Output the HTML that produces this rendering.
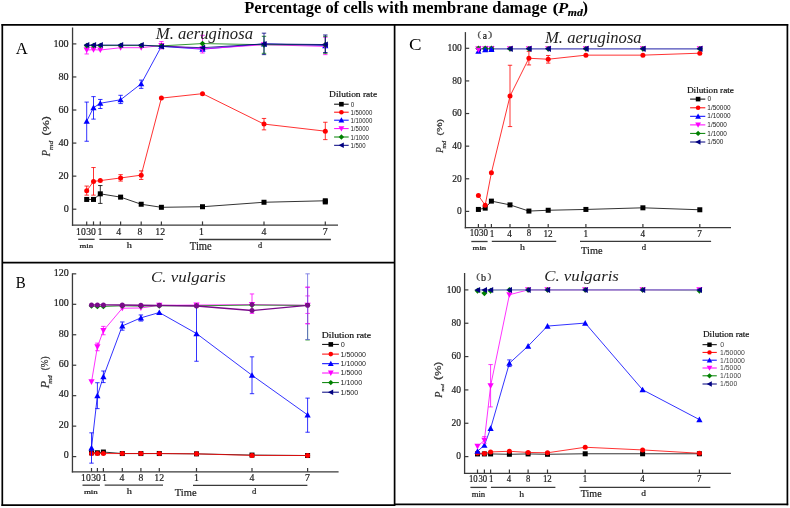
<!DOCTYPE html>
<html><head><meta charset="utf-8"><style>
html,body{margin:0;padding:0;background:#fff;}
svg{display:block;will-change:transform;}
</style></head><body>
<svg width="790" height="508" viewBox="0 0 790 508">
<rect width="790" height="508" fill="#fff"/>
<g fill="none" stroke="#000" stroke-width="1.7">
<line x1="1.5" y1="24.9" x2="788.2" y2="24.9"/>
<line x1="2.3" y1="24.1" x2="2.3" y2="506"/>
<line x1="787.4" y1="24.1" x2="787.4" y2="505.3"/>
<line x1="1.5" y1="505.2" x2="394.6" y2="505.2"/>
<line x1="394.6" y1="504.4" x2="788.2" y2="504.4"/>
<line x1="394.6" y1="24" x2="394.6" y2="505.9"/>
<line x1="2.3" y1="262.6" x2="394.6" y2="262.6"/>
</g>
<line x1="72.55" y1="27.5" x2="72.55" y2="225.85" stroke="#3a3a3a" stroke-width="1.3"/>
<line x1="71.9" y1="225.2" x2="338" y2="225.2" stroke="#3a3a3a" stroke-width="1.3"/>
<line x1="72.55" y1="209.2" x2="76.35" y2="209.2" stroke="#3a3a3a" stroke-width="1.2"/>
<text x="63.63" y="212" font-family="Liberation Serif" font-size="10.37" fill="#1a1a1a" stroke="#1a1a1a" stroke-width="0.2" textLength="5.08" lengthAdjust="spacingAndGlyphs">0</text>
<line x1="72.55" y1="176.14" x2="76.35" y2="176.14" stroke="#3a3a3a" stroke-width="1.2"/>
<text x="58.54" y="178.94" font-family="Liberation Serif" font-size="10.37" fill="#1a1a1a" stroke="#1a1a1a" stroke-width="0.2" textLength="10.16" lengthAdjust="spacingAndGlyphs">20</text>
<line x1="72.55" y1="143.08" x2="76.35" y2="143.08" stroke="#3a3a3a" stroke-width="1.2"/>
<text x="58.54" y="145.88" font-family="Liberation Serif" font-size="10.37" fill="#1a1a1a" stroke="#1a1a1a" stroke-width="0.2" textLength="10.16" lengthAdjust="spacingAndGlyphs">40</text>
<line x1="72.55" y1="110.02" x2="76.35" y2="110.02" stroke="#3a3a3a" stroke-width="1.2"/>
<text x="58.54" y="112.82" font-family="Liberation Serif" font-size="10.37" fill="#1a1a1a" stroke="#1a1a1a" stroke-width="0.2" textLength="10.16" lengthAdjust="spacingAndGlyphs">60</text>
<line x1="72.55" y1="76.96" x2="76.35" y2="76.96" stroke="#3a3a3a" stroke-width="1.2"/>
<text x="58.54" y="79.76" font-family="Liberation Serif" font-size="10.37" fill="#1a1a1a" stroke="#1a1a1a" stroke-width="0.2" textLength="10.16" lengthAdjust="spacingAndGlyphs">80</text>
<line x1="72.55" y1="43.9" x2="76.35" y2="43.9" stroke="#3a3a3a" stroke-width="1.2"/>
<text x="53.46" y="46.7" font-family="Liberation Serif" font-size="10.37" fill="#1a1a1a" stroke="#1a1a1a" stroke-width="0.2" textLength="15.24" lengthAdjust="spacingAndGlyphs">100</text>
<line x1="86.7" y1="225.2" x2="86.7" y2="221.4" stroke="#3a3a3a" stroke-width="1.2"/>
<line x1="93.5" y1="225.2" x2="93.5" y2="221.4" stroke="#3a3a3a" stroke-width="1.2"/>
<line x1="100.3" y1="225.2" x2="100.3" y2="221.4" stroke="#3a3a3a" stroke-width="1.2"/>
<line x1="120.6" y1="225.2" x2="120.6" y2="221.4" stroke="#3a3a3a" stroke-width="1.2"/>
<line x1="141.2" y1="225.2" x2="141.2" y2="221.4" stroke="#3a3a3a" stroke-width="1.2"/>
<line x1="161.4" y1="225.2" x2="161.4" y2="221.4" stroke="#3a3a3a" stroke-width="1.2"/>
<line x1="202.5" y1="225.2" x2="202.5" y2="221.4" stroke="#3a3a3a" stroke-width="1.2"/>
<line x1="264" y1="225.2" x2="264" y2="221.4" stroke="#3a3a3a" stroke-width="1.2"/>
<line x1="325.3" y1="225.2" x2="325.3" y2="221.4" stroke="#3a3a3a" stroke-width="1.2"/>
<text x="76.11" y="235.3" font-family="Liberation Serif" font-size="10.37" fill="#1a1a1a" stroke="#1a1a1a" stroke-width="0.2" textLength="9.64" lengthAdjust="spacingAndGlyphs">10</text>
<text x="86.25" y="235.3" font-family="Liberation Serif" font-size="10.37" fill="#1a1a1a" stroke="#1a1a1a" stroke-width="0.2" textLength="9.64" lengthAdjust="spacingAndGlyphs">30</text>
<text x="97.56" y="235.4" font-family="Liberation Serif" font-size="10.61" fill="#1a1a1a" stroke="#1a1a1a" stroke-width="0.2" textLength="4.93" lengthAdjust="spacingAndGlyphs">1</text>
<text x="116.31" y="235.4" font-family="Liberation Serif" font-size="10.61" fill="#1a1a1a" stroke="#1a1a1a" stroke-width="0.2" textLength="4.93" lengthAdjust="spacingAndGlyphs">4</text>
<text x="137.44" y="235.3" font-family="Liberation Serif" font-size="10.37" fill="#1a1a1a" stroke="#1a1a1a" stroke-width="0.2" textLength="4.82" lengthAdjust="spacingAndGlyphs">8</text>
<text x="155.37" y="235.4" font-family="Liberation Serif" font-size="10.61" fill="#1a1a1a" stroke="#1a1a1a" stroke-width="0.2" textLength="9.86" lengthAdjust="spacingAndGlyphs">12</text>
<text x="199.11" y="235.4" font-family="Liberation Serif" font-size="10.61" fill="#1a1a1a" stroke="#1a1a1a" stroke-width="0.2" textLength="4.93" lengthAdjust="spacingAndGlyphs">1</text>
<text x="261.51" y="235.4" font-family="Liberation Serif" font-size="10.61" fill="#1a1a1a" stroke="#1a1a1a" stroke-width="0.2" textLength="4.93" lengthAdjust="spacingAndGlyphs">4</text>
<text x="322.64" y="235.4" font-family="Liberation Serif" font-size="10.69" fill="#1a1a1a" stroke="#1a1a1a" stroke-width="0.2" textLength="4.97" lengthAdjust="spacingAndGlyphs">7</text>
<line x1="78.2" y1="239.3" x2="94.6" y2="239.3" stroke="#3a3a3a" stroke-width="1.3"/>
<line x1="99.4" y1="239.3" x2="163.1" y2="239.3" stroke="#3a3a3a" stroke-width="1.3"/>
<line x1="199.1" y1="239.5" x2="330.9" y2="239.5" stroke="#3a3a3a" stroke-width="1.3"/>
<text x="79.53" y="248" font-family="Liberation Serif" font-size="6.36" fill="#1a1a1a" stroke="#1a1a1a" stroke-width="0.2" textLength="13.61" lengthAdjust="spacingAndGlyphs">min</text>
<text x="126.8" y="248.1" font-family="Liberation Serif" font-size="8.78" fill="#1a1a1a" stroke="#1a1a1a" stroke-width="0.2" textLength="5.16" lengthAdjust="spacingAndGlyphs">h</text>
<text x="258.01" y="248.01" font-family="Liberation Serif" font-size="8.65" fill="#1a1a1a" stroke="#1a1a1a" stroke-width="0.2" textLength="4.18" lengthAdjust="spacingAndGlyphs">d</text>
<text x="189.79" y="250.38" font-family="Liberation Serif" font-size="11.64" fill="#1a1a1a" stroke="#1a1a1a" stroke-width="0.2" textLength="21.98" lengthAdjust="spacingAndGlyphs">Time</text>
<polyline points="86.7,199.45 93.5,199.45 100.3,193.83 120.6,197.13 141.2,204.24 161.4,207.3 202.5,206.72 264,202.26 325.3,200.77" fill="none" stroke="#000000" stroke-width="1.0" stroke-opacity="0.8" stroke-linejoin="round"/>
<line x1="100.3" y1="203.41" x2="100.3" y2="185.56" stroke="#000000" stroke-width="1.0" stroke-opacity="0.8"/>
<line x1="98.1" y1="203.41" x2="102.5" y2="203.41" stroke="#000000" stroke-width="1.0" stroke-opacity="0.8"/>
<line x1="98.1" y1="185.56" x2="102.5" y2="185.56" stroke="#000000" stroke-width="1.0" stroke-opacity="0.8"/>
<rect x="84.2" y="196.95" width="5" height="5" fill="#000000"/>
<rect x="91" y="196.95" width="5" height="5" fill="#000000"/>
<rect x="97.8" y="191.33" width="5" height="5" fill="#000000"/>
<rect x="118.1" y="194.63" width="5" height="5" fill="#000000"/>
<rect x="138.7" y="201.74" width="5" height="5" fill="#000000"/>
<rect x="158.9" y="204.8" width="5" height="5" fill="#000000"/>
<rect x="200" y="204.22" width="5" height="5" fill="#000000"/>
<rect x="261.5" y="199.76" width="5" height="5" fill="#000000"/>
<rect x="322.8" y="198.27" width="5" height="5" fill="#000000"/>
<rect x="322.8" y="199.43" width="5" height="5" fill="#000000"/>
<polyline points="86.7,190.85 93.5,181.43 100.3,180.6 120.6,177.96 141.2,175.15 161.4,98.12 202.5,93.66 264,124.07 325.3,131.18" fill="none" stroke="#FF0000" stroke-width="1.0" stroke-opacity="0.8" stroke-linejoin="round"/>
<line x1="86.7" y1="195.15" x2="86.7" y2="186.06" stroke="#FF0000" stroke-width="1.0" stroke-opacity="0.8"/>
<line x1="84.5" y1="195.15" x2="88.9" y2="195.15" stroke="#FF0000" stroke-width="1.0" stroke-opacity="0.8"/>
<line x1="84.5" y1="186.06" x2="88.9" y2="186.06" stroke="#FF0000" stroke-width="1.0" stroke-opacity="0.8"/>
<line x1="93.5" y1="195.15" x2="93.5" y2="167.54" stroke="#FF0000" stroke-width="1.0" stroke-opacity="0.8"/>
<line x1="91.3" y1="195.15" x2="95.7" y2="195.15" stroke="#FF0000" stroke-width="1.0" stroke-opacity="0.8"/>
<line x1="91.3" y1="167.54" x2="95.7" y2="167.54" stroke="#FF0000" stroke-width="1.0" stroke-opacity="0.8"/>
<line x1="120.6" y1="181.1" x2="120.6" y2="174.65" stroke="#FF0000" stroke-width="1.0" stroke-opacity="0.8"/>
<line x1="118.4" y1="181.1" x2="122.8" y2="181.1" stroke="#FF0000" stroke-width="1.0" stroke-opacity="0.8"/>
<line x1="118.4" y1="174.65" x2="122.8" y2="174.65" stroke="#FF0000" stroke-width="1.0" stroke-opacity="0.8"/>
<line x1="141.2" y1="179.45" x2="141.2" y2="170.85" stroke="#FF0000" stroke-width="1.0" stroke-opacity="0.8"/>
<line x1="139" y1="179.45" x2="143.4" y2="179.45" stroke="#FF0000" stroke-width="1.0" stroke-opacity="0.8"/>
<line x1="139" y1="170.85" x2="143.4" y2="170.85" stroke="#FF0000" stroke-width="1.0" stroke-opacity="0.8"/>
<line x1="264" y1="129.86" x2="264" y2="118.45" stroke="#FF0000" stroke-width="1.0" stroke-opacity="0.8"/>
<line x1="261.8" y1="129.86" x2="266.2" y2="129.86" stroke="#FF0000" stroke-width="1.0" stroke-opacity="0.8"/>
<line x1="261.8" y1="118.45" x2="266.2" y2="118.45" stroke="#FF0000" stroke-width="1.0" stroke-opacity="0.8"/>
<line x1="325.3" y1="139.61" x2="325.3" y2="122.25" stroke="#FF0000" stroke-width="1.0" stroke-opacity="0.8"/>
<line x1="323.1" y1="139.61" x2="327.5" y2="139.61" stroke="#FF0000" stroke-width="1.0" stroke-opacity="0.8"/>
<line x1="323.1" y1="122.25" x2="327.5" y2="122.25" stroke="#FF0000" stroke-width="1.0" stroke-opacity="0.8"/>
<circle cx="86.7" cy="190.85" r="2.5" fill="#FF0000"/>
<circle cx="93.5" cy="181.43" r="2.5" fill="#FF0000"/>
<circle cx="100.3" cy="180.6" r="2.5" fill="#FF0000"/>
<circle cx="120.6" cy="177.96" r="2.5" fill="#FF0000"/>
<circle cx="141.2" cy="175.15" r="2.5" fill="#FF0000"/>
<circle cx="161.4" cy="98.12" r="2.5" fill="#FF0000"/>
<circle cx="202.5" cy="93.66" r="2.5" fill="#FF0000"/>
<circle cx="264" cy="124.07" r="2.5" fill="#FF0000"/>
<circle cx="325.3" cy="131.18" r="2.5" fill="#FF0000"/>
<polyline points="86.7,121.26 93.5,107.71 100.3,103.24 120.6,99.77 141.2,83.74 161.4,46.38 202.5,49.19 264,43.9 325.3,45.55" fill="none" stroke="#0000FF" stroke-width="1.0" stroke-opacity="0.8" stroke-linejoin="round"/>
<line x1="86.7" y1="141.26" x2="86.7" y2="102.09" stroke="#0000FF" stroke-width="1.0" stroke-opacity="0.8"/>
<line x1="84.5" y1="141.26" x2="88.9" y2="141.26" stroke="#0000FF" stroke-width="1.0" stroke-opacity="0.8"/>
<line x1="84.5" y1="102.09" x2="88.9" y2="102.09" stroke="#0000FF" stroke-width="1.0" stroke-opacity="0.8"/>
<line x1="93.5" y1="119.11" x2="93.5" y2="96.63" stroke="#0000FF" stroke-width="1.0" stroke-opacity="0.8"/>
<line x1="91.3" y1="119.11" x2="95.7" y2="119.11" stroke="#0000FF" stroke-width="1.0" stroke-opacity="0.8"/>
<line x1="91.3" y1="96.63" x2="95.7" y2="96.63" stroke="#0000FF" stroke-width="1.0" stroke-opacity="0.8"/>
<line x1="100.3" y1="108.53" x2="100.3" y2="99.44" stroke="#0000FF" stroke-width="1.0" stroke-opacity="0.8"/>
<line x1="98.1" y1="108.53" x2="102.5" y2="108.53" stroke="#0000FF" stroke-width="1.0" stroke-opacity="0.8"/>
<line x1="98.1" y1="99.44" x2="102.5" y2="99.44" stroke="#0000FF" stroke-width="1.0" stroke-opacity="0.8"/>
<line x1="120.6" y1="103.57" x2="120.6" y2="95.31" stroke="#0000FF" stroke-width="1.0" stroke-opacity="0.8"/>
<line x1="118.4" y1="103.57" x2="122.8" y2="103.57" stroke="#0000FF" stroke-width="1.0" stroke-opacity="0.8"/>
<line x1="118.4" y1="95.31" x2="122.8" y2="95.31" stroke="#0000FF" stroke-width="1.0" stroke-opacity="0.8"/>
<line x1="141.2" y1="88.37" x2="141.2" y2="80.1" stroke="#0000FF" stroke-width="1.0" stroke-opacity="0.8"/>
<line x1="139" y1="88.37" x2="143.4" y2="88.37" stroke="#0000FF" stroke-width="1.0" stroke-opacity="0.8"/>
<line x1="139" y1="80.1" x2="143.4" y2="80.1" stroke="#0000FF" stroke-width="1.0" stroke-opacity="0.8"/>
<polygon points="86.7,118.16 89.8,123.86 83.6,123.86" fill="#0000FF"/>
<polygon points="93.5,104.61 96.6,110.31 90.4,110.31" fill="#0000FF"/>
<polygon points="100.3,100.14 103.4,105.84 97.2,105.84" fill="#0000FF"/>
<polygon points="120.6,96.67 123.7,102.37 117.5,102.37" fill="#0000FF"/>
<polygon points="141.2,80.64 144.3,86.34 138.1,86.34" fill="#0000FF"/>
<polygon points="161.4,43.28 164.5,48.98 158.3,48.98" fill="#0000FF"/>
<polygon points="202.5,46.09 205.6,51.79 199.4,51.79" fill="#0000FF"/>
<polygon points="264,40.8 267.1,46.5 260.9,46.5" fill="#0000FF"/>
<polygon points="325.3,42.45 328.4,48.15 322.2,48.15" fill="#0000FF"/>
<polyline points="86.7,50.02 93.5,49.69 100.3,50.02 120.6,47.7 141.2,47.7 161.4,45.55 202.5,48.86 264,44.73 325.3,46.38" fill="none" stroke="#FF00FF" stroke-width="1.0" stroke-opacity="0.8" stroke-linejoin="round"/>
<line x1="86.7" y1="53.98" x2="86.7" y2="47.21" stroke="#FF00FF" stroke-width="1.0" stroke-opacity="0.8"/>
<line x1="84.5" y1="53.98" x2="88.9" y2="53.98" stroke="#FF00FF" stroke-width="1.0" stroke-opacity="0.8"/>
<line x1="84.5" y1="47.21" x2="88.9" y2="47.21" stroke="#FF00FF" stroke-width="1.0" stroke-opacity="0.8"/>
<line x1="161.4" y1="48.86" x2="161.4" y2="41.59" stroke="#FF00FF" stroke-width="1.0" stroke-opacity="0.8"/>
<line x1="159.2" y1="48.86" x2="163.6" y2="48.86" stroke="#FF00FF" stroke-width="1.0" stroke-opacity="0.8"/>
<line x1="159.2" y1="41.59" x2="163.6" y2="41.59" stroke="#FF00FF" stroke-width="1.0" stroke-opacity="0.8"/>
<line x1="202.5" y1="52.99" x2="202.5" y2="35.3" stroke="#FF00FF" stroke-width="1.0" stroke-opacity="0.8"/>
<line x1="200.3" y1="52.99" x2="204.7" y2="52.99" stroke="#FF00FF" stroke-width="1.0" stroke-opacity="0.8"/>
<line x1="200.3" y1="35.3" x2="204.7" y2="35.3" stroke="#FF00FF" stroke-width="1.0" stroke-opacity="0.8"/>
<line x1="325.3" y1="54.64" x2="325.3" y2="37.29" stroke="#FF00FF" stroke-width="1.0" stroke-opacity="0.8"/>
<line x1="323.1" y1="54.64" x2="327.5" y2="54.64" stroke="#FF00FF" stroke-width="1.0" stroke-opacity="0.8"/>
<line x1="323.1" y1="37.29" x2="327.5" y2="37.29" stroke="#FF00FF" stroke-width="1.0" stroke-opacity="0.8"/>
<polygon points="86.7,53.12 89.8,47.42 83.6,47.42" fill="#FF00FF"/>
<polygon points="93.5,52.79 96.6,47.09 90.4,47.09" fill="#FF00FF"/>
<polygon points="100.3,53.12 103.4,47.42 97.2,47.42" fill="#FF00FF"/>
<polygon points="120.6,50.8 123.7,45.1 117.5,45.1" fill="#FF00FF"/>
<polygon points="141.2,50.8 144.3,45.1 138.1,45.1" fill="#FF00FF"/>
<polygon points="161.4,48.65 164.5,42.95 158.3,42.95" fill="#FF00FF"/>
<polygon points="202.5,51.96 205.6,46.26 199.4,46.26" fill="#FF00FF"/>
<polygon points="264,47.83 267.1,42.13 260.9,42.13" fill="#FF00FF"/>
<polygon points="325.3,49.48 328.4,43.78 322.2,43.78" fill="#FF00FF"/>
<polyline points="86.7,45.55 93.5,45.55 100.3,45.55 120.6,45.55 141.2,45.55 161.4,45.88 202.5,43.57 264,44.73 325.3,44.73" fill="none" stroke="#008000" stroke-width="1.0" stroke-opacity="0.8" stroke-linejoin="round"/>
<line x1="264" y1="53.32" x2="264" y2="36.3" stroke="#008000" stroke-width="1.0" stroke-opacity="0.8"/>
<line x1="261.8" y1="53.32" x2="266.2" y2="53.32" stroke="#008000" stroke-width="1.0" stroke-opacity="0.8"/>
<line x1="261.8" y1="36.3" x2="266.2" y2="36.3" stroke="#008000" stroke-width="1.0" stroke-opacity="0.8"/>
<line x1="325.3" y1="53.32" x2="325.3" y2="36.3" stroke="#008000" stroke-width="1.0" stroke-opacity="0.8"/>
<line x1="323.1" y1="53.32" x2="327.5" y2="53.32" stroke="#008000" stroke-width="1.0" stroke-opacity="0.8"/>
<line x1="323.1" y1="36.3" x2="327.5" y2="36.3" stroke="#008000" stroke-width="1.0" stroke-opacity="0.8"/>
<polygon points="86.7,42.65 89.6,45.55 86.7,48.45 83.8,45.55" fill="#008000"/>
<polygon points="93.5,42.65 96.4,45.55 93.5,48.45 90.6,45.55" fill="#008000"/>
<polygon points="100.3,42.65 103.2,45.55 100.3,48.45 97.4,45.55" fill="#008000"/>
<polygon points="120.6,42.65 123.5,45.55 120.6,48.45 117.7,45.55" fill="#008000"/>
<polygon points="141.2,42.65 144.1,45.55 141.2,48.45 138.3,45.55" fill="#008000"/>
<polygon points="161.4,42.98 164.3,45.88 161.4,48.78 158.5,45.88" fill="#008000"/>
<polygon points="202.5,40.67 205.4,43.57 202.5,46.47 199.6,43.57" fill="#008000"/>
<polygon points="264,41.83 266.9,44.73 264,47.63 261.1,44.73" fill="#008000"/>
<polygon points="325.3,41.83 328.2,44.73 325.3,47.63 322.4,44.73" fill="#008000"/>
<polyline points="86.7,45.06 93.5,45.06 100.3,45.06 120.6,45.06 141.2,45.06 161.4,46.38 202.5,47.7 264,43.9 325.3,44.56" fill="none" stroke="#000080" stroke-width="1.0" stroke-opacity="0.8" stroke-linejoin="round"/>
<line x1="264" y1="54.64" x2="264" y2="33.16" stroke="#000080" stroke-width="1.0" stroke-opacity="0.8"/>
<line x1="261.8" y1="54.64" x2="266.2" y2="54.64" stroke="#000080" stroke-width="1.0" stroke-opacity="0.8"/>
<line x1="261.8" y1="33.16" x2="266.2" y2="33.16" stroke="#000080" stroke-width="1.0" stroke-opacity="0.8"/>
<line x1="325.3" y1="52.5" x2="325.3" y2="34.97" stroke="#000080" stroke-width="1.0" stroke-opacity="0.8"/>
<line x1="323.1" y1="52.5" x2="327.5" y2="52.5" stroke="#000080" stroke-width="1.0" stroke-opacity="0.8"/>
<line x1="323.1" y1="34.97" x2="327.5" y2="34.97" stroke="#000080" stroke-width="1.0" stroke-opacity="0.8"/>
<polygon points="83.6,45.06 89.3,42.06 89.3,48.06" fill="#000080"/>
<polygon points="90.4,45.06 96.1,42.06 96.1,48.06" fill="#000080"/>
<polygon points="97.2,45.06 102.9,42.06 102.9,48.06" fill="#000080"/>
<polygon points="117.5,45.06 123.2,42.06 123.2,48.06" fill="#000080"/>
<polygon points="138.1,45.06 143.8,42.06 143.8,48.06" fill="#000080"/>
<polygon points="158.3,46.38 164,43.38 164,49.38" fill="#000080"/>
<polygon points="199.4,47.7 205.1,44.7 205.1,50.7" fill="#000080"/>
<polygon points="260.9,43.9 266.6,40.9 266.6,46.9" fill="#000080"/>
<polygon points="322.2,44.56 327.9,41.56 327.9,47.56" fill="#000080"/>
<text x="329.12" y="96.61" font-family="Liberation Serif" font-size="9.22" fill="#111" stroke="#111" stroke-width="0.2" textLength="47.98" lengthAdjust="spacingAndGlyphs">Dilution rate</text>
<line x1="334.1" y1="104.2" x2="348.7" y2="104.2" stroke="#000000" stroke-width="1.0"/>
<rect x="339.1" y="101.9" width="4.6" height="4.6" fill="#000000"/>
<text x="350.65" y="106.77" font-family="Liberation Sans" font-size="8.03" fill="#222" textLength="3.48" lengthAdjust="spacingAndGlyphs">0</text>
<line x1="334.1" y1="112.2" x2="348.7" y2="112.2" stroke="#FF0000" stroke-width="1.0"/>
<circle cx="341.4" cy="112.2" r="2.3" fill="#FF0000"/>
<text x="350.45" y="114.77" font-family="Liberation Sans" font-size="7.76" fill="#222" textLength="21.86" lengthAdjust="spacingAndGlyphs">1/50000</text>
<line x1="334.1" y1="120.2" x2="348.7" y2="120.2" stroke="#0000FF" stroke-width="1.0"/>
<polygon points="341.4,117.3 344.3,122.6 338.5,122.6" fill="#0000FF"/>
<text x="350.45" y="122.77" font-family="Liberation Sans" font-size="7.76" fill="#222" textLength="21.86" lengthAdjust="spacingAndGlyphs">1/10000</text>
<line x1="334.1" y1="128.6" x2="348.7" y2="128.6" stroke="#FF00FF" stroke-width="1.0"/>
<polygon points="341.4,131.5 344.3,126.2 338.5,126.2" fill="#FF00FF"/>
<text x="350.45" y="131.17" font-family="Liberation Sans" font-size="7.76" fill="#222" textLength="18.5" lengthAdjust="spacingAndGlyphs">1/5000</text>
<line x1="334.1" y1="137" x2="348.7" y2="137" stroke="#008000" stroke-width="1.0"/>
<polygon points="341.4,134.3 344.1,137 341.4,139.7 338.7,137" fill="#008000"/>
<text x="350.45" y="139.57" font-family="Liberation Sans" font-size="7.76" fill="#222" textLength="18.5" lengthAdjust="spacingAndGlyphs">1/1000</text>
<line x1="334.1" y1="145.3" x2="348.7" y2="145.3" stroke="#000080" stroke-width="1.0"/>
<polygon points="338.5,145.3 343.8,142.5 343.8,148.1" fill="#000080"/>
<text x="350.45" y="147.87" font-family="Liberation Sans" font-size="7.76" fill="#222" textLength="15.14" lengthAdjust="spacingAndGlyphs">1/500</text>
<line x1="72.45" y1="273.3" x2="72.45" y2="472.45" stroke="#3a3a3a" stroke-width="1.3"/>
<line x1="71.8" y1="471.8" x2="338.6" y2="471.8" stroke="#3a3a3a" stroke-width="1.3"/>
<line x1="72.45" y1="456.6" x2="76.25" y2="456.6" stroke="#3a3a3a" stroke-width="1.2"/>
<text x="63.84" y="458.35" font-family="Liberation Serif" font-size="10.22" fill="#1a1a1a" stroke="#1a1a1a" stroke-width="0.2" textLength="5.01" lengthAdjust="spacingAndGlyphs">0</text>
<line x1="72.45" y1="426.14" x2="76.25" y2="426.14" stroke="#3a3a3a" stroke-width="1.2"/>
<text x="58.83" y="427.89" font-family="Liberation Serif" font-size="10.22" fill="#1a1a1a" stroke="#1a1a1a" stroke-width="0.2" textLength="10.02" lengthAdjust="spacingAndGlyphs">20</text>
<line x1="72.45" y1="395.68" x2="76.25" y2="395.68" stroke="#3a3a3a" stroke-width="1.2"/>
<text x="58.83" y="397.43" font-family="Liberation Serif" font-size="10.22" fill="#1a1a1a" stroke="#1a1a1a" stroke-width="0.2" textLength="10.02" lengthAdjust="spacingAndGlyphs">40</text>
<line x1="72.45" y1="365.22" x2="76.25" y2="365.22" stroke="#3a3a3a" stroke-width="1.2"/>
<text x="58.83" y="366.97" font-family="Liberation Serif" font-size="10.22" fill="#1a1a1a" stroke="#1a1a1a" stroke-width="0.2" textLength="10.02" lengthAdjust="spacingAndGlyphs">60</text>
<line x1="72.45" y1="334.76" x2="76.25" y2="334.76" stroke="#3a3a3a" stroke-width="1.2"/>
<text x="58.83" y="336.51" font-family="Liberation Serif" font-size="10.22" fill="#1a1a1a" stroke="#1a1a1a" stroke-width="0.2" textLength="10.02" lengthAdjust="spacingAndGlyphs">80</text>
<line x1="72.45" y1="304.3" x2="76.25" y2="304.3" stroke="#3a3a3a" stroke-width="1.2"/>
<text x="53.82" y="306.05" font-family="Liberation Serif" font-size="10.22" fill="#1a1a1a" stroke="#1a1a1a" stroke-width="0.2" textLength="15.03" lengthAdjust="spacingAndGlyphs">100</text>
<line x1="72.45" y1="273.84" x2="76.25" y2="273.84" stroke="#3a3a3a" stroke-width="1.2"/>
<text x="53.82" y="275.59" font-family="Liberation Serif" font-size="10.22" fill="#1a1a1a" stroke="#1a1a1a" stroke-width="0.2" textLength="15.03" lengthAdjust="spacingAndGlyphs">120</text>
<line x1="91.5" y1="471.8" x2="91.5" y2="468" stroke="#3a3a3a" stroke-width="1.2"/>
<line x1="97.4" y1="471.8" x2="97.4" y2="468" stroke="#3a3a3a" stroke-width="1.2"/>
<line x1="103.4" y1="471.8" x2="103.4" y2="468" stroke="#3a3a3a" stroke-width="1.2"/>
<line x1="122.3" y1="471.8" x2="122.3" y2="468" stroke="#3a3a3a" stroke-width="1.2"/>
<line x1="140.9" y1="471.8" x2="140.9" y2="468" stroke="#3a3a3a" stroke-width="1.2"/>
<line x1="159.3" y1="471.8" x2="159.3" y2="468" stroke="#3a3a3a" stroke-width="1.2"/>
<line x1="196.5" y1="471.8" x2="196.5" y2="468" stroke="#3a3a3a" stroke-width="1.2"/>
<line x1="252" y1="471.8" x2="252" y2="468" stroke="#3a3a3a" stroke-width="1.2"/>
<line x1="307.6" y1="471.8" x2="307.6" y2="468" stroke="#3a3a3a" stroke-width="1.2"/>
<text x="81.11" y="481.2" font-family="Liberation Serif" font-size="10.37" fill="#1a1a1a" stroke="#1a1a1a" stroke-width="0.2" textLength="9.64" lengthAdjust="spacingAndGlyphs">10</text>
<text x="91.3" y="481.2" font-family="Liberation Serif" font-size="10.37" fill="#1a1a1a" stroke="#1a1a1a" stroke-width="0.2" textLength="9.64" lengthAdjust="spacingAndGlyphs">30</text>
<text x="101.91" y="481.3" font-family="Liberation Serif" font-size="10.61" fill="#1a1a1a" stroke="#1a1a1a" stroke-width="0.2" textLength="4.93" lengthAdjust="spacingAndGlyphs">1</text>
<text x="119.46" y="481.3" font-family="Liberation Serif" font-size="10.61" fill="#1a1a1a" stroke="#1a1a1a" stroke-width="0.2" textLength="4.93" lengthAdjust="spacingAndGlyphs">4</text>
<text x="138.49" y="481.2" font-family="Liberation Serif" font-size="10.37" fill="#1a1a1a" stroke="#1a1a1a" stroke-width="0.2" textLength="4.82" lengthAdjust="spacingAndGlyphs">8</text>
<text x="154.22" y="481.3" font-family="Liberation Serif" font-size="10.61" fill="#1a1a1a" stroke="#1a1a1a" stroke-width="0.2" textLength="9.86" lengthAdjust="spacingAndGlyphs">12</text>
<text x="193.91" y="481.3" font-family="Liberation Serif" font-size="10.61" fill="#1a1a1a" stroke="#1a1a1a" stroke-width="0.2" textLength="4.93" lengthAdjust="spacingAndGlyphs">1</text>
<text x="249.51" y="481.3" font-family="Liberation Serif" font-size="10.61" fill="#1a1a1a" stroke="#1a1a1a" stroke-width="0.2" textLength="4.93" lengthAdjust="spacingAndGlyphs">4</text>
<text x="304.94" y="481.3" font-family="Liberation Serif" font-size="10.69" fill="#1a1a1a" stroke="#1a1a1a" stroke-width="0.2" textLength="4.97" lengthAdjust="spacingAndGlyphs">7</text>
<line x1="82.5" y1="485.2" x2="99.9" y2="485.2" stroke="#3a3a3a" stroke-width="1.3"/>
<line x1="104.7" y1="485.2" x2="163" y2="485.2" stroke="#3a3a3a" stroke-width="1.3"/>
<line x1="193" y1="485.3" x2="307.4" y2="485.3" stroke="#3a3a3a" stroke-width="1.3"/>
<text x="83.92" y="494" font-family="Liberation Serif" font-size="6.36" fill="#1a1a1a" stroke="#1a1a1a" stroke-width="0.2" textLength="13.92" lengthAdjust="spacingAndGlyphs">min</text>
<text x="126.8" y="494.1" font-family="Liberation Serif" font-size="8.78" fill="#1a1a1a" stroke="#1a1a1a" stroke-width="0.2" textLength="5.16" lengthAdjust="spacingAndGlyphs">h</text>
<text x="251.9" y="493.91" font-family="Liberation Serif" font-size="8.51" fill="#1a1a1a" stroke="#1a1a1a" stroke-width="0.2" textLength="4.29" lengthAdjust="spacingAndGlyphs">d</text>
<text x="174.79" y="495.59" font-family="Liberation Serif" font-size="11.34" fill="#1a1a1a" stroke="#1a1a1a" stroke-width="0.2" textLength="21.88" lengthAdjust="spacingAndGlyphs">Time</text>
<polyline points="91.5,452.79 97.4,452.79 103.4,452.03 122.3,453.55 140.9,453.55 159.3,453.55 196.5,453.86 252,455.08 307.6,455.53" fill="none" stroke="#000000" stroke-width="1.0" stroke-opacity="0.8" stroke-linejoin="round"/>
<rect x="89" y="450.29" width="5" height="5" fill="#000000"/>
<rect x="94.9" y="450.29" width="5" height="5" fill="#000000"/>
<rect x="100.9" y="449.53" width="5" height="5" fill="#000000"/>
<rect x="119.8" y="451.05" width="5" height="5" fill="#000000"/>
<rect x="138.4" y="451.05" width="5" height="5" fill="#000000"/>
<rect x="156.8" y="451.05" width="5" height="5" fill="#000000"/>
<rect x="194" y="451.36" width="5" height="5" fill="#000000"/>
<rect x="249.5" y="452.58" width="5" height="5" fill="#000000"/>
<rect x="305.1" y="453.03" width="5" height="5" fill="#000000"/>
<polyline points="91.5,453.55 97.4,453.55 103.4,453.55 122.3,453.55 140.9,453.55 159.3,453.55 196.5,453.86 252,455.38 307.6,455.53" fill="none" stroke="#FF0000" stroke-width="1.0" stroke-opacity="0.8" stroke-linejoin="round"/>
<circle cx="91.5" cy="453.55" r="2.5" fill="#FF0000"/>
<circle cx="97.4" cy="453.55" r="2.5" fill="#FF0000"/>
<circle cx="103.4" cy="453.55" r="2.5" fill="#FF0000"/>
<circle cx="122.3" cy="453.55" r="2.5" fill="#FF0000"/>
<circle cx="140.9" cy="453.55" r="2.5" fill="#FF0000"/>
<circle cx="159.3" cy="453.55" r="2.5" fill="#FF0000"/>
<circle cx="196.5" cy="453.86" r="2.5" fill="#FF0000"/>
<circle cx="252" cy="455.38" r="2.5" fill="#FF0000"/>
<circle cx="307.6" cy="455.53" r="2.5" fill="#FF0000"/>
<polyline points="91.5,447.92 97.4,395.68 103.4,376.64 122.3,325.93 140.9,317.85 159.3,312.52 196.5,333.54 252,375.27 307.6,414.87" fill="none" stroke="#0000FF" stroke-width="1.0" stroke-opacity="0.8" stroke-linejoin="round"/>
<line x1="91.5" y1="463.15" x2="91.5" y2="432.84" stroke="#0000FF" stroke-width="1.0" stroke-opacity="0.8"/>
<line x1="89.3" y1="463.15" x2="93.7" y2="463.15" stroke="#0000FF" stroke-width="1.0" stroke-opacity="0.8"/>
<line x1="89.3" y1="432.84" x2="93.7" y2="432.84" stroke="#0000FF" stroke-width="1.0" stroke-opacity="0.8"/>
<line x1="97.4" y1="408.63" x2="97.4" y2="382.73" stroke="#0000FF" stroke-width="1.0" stroke-opacity="0.8"/>
<line x1="95.2" y1="408.63" x2="99.6" y2="408.63" stroke="#0000FF" stroke-width="1.0" stroke-opacity="0.8"/>
<line x1="95.2" y1="382.73" x2="99.6" y2="382.73" stroke="#0000FF" stroke-width="1.0" stroke-opacity="0.8"/>
<line x1="103.4" y1="382.58" x2="103.4" y2="371.01" stroke="#0000FF" stroke-width="1.0" stroke-opacity="0.8"/>
<line x1="101.2" y1="382.58" x2="105.6" y2="382.58" stroke="#0000FF" stroke-width="1.0" stroke-opacity="0.8"/>
<line x1="101.2" y1="371.01" x2="105.6" y2="371.01" stroke="#0000FF" stroke-width="1.0" stroke-opacity="0.8"/>
<line x1="122.3" y1="330.19" x2="122.3" y2="321.97" stroke="#0000FF" stroke-width="1.0" stroke-opacity="0.8"/>
<line x1="120.1" y1="330.19" x2="124.5" y2="330.19" stroke="#0000FF" stroke-width="1.0" stroke-opacity="0.8"/>
<line x1="120.1" y1="321.97" x2="124.5" y2="321.97" stroke="#0000FF" stroke-width="1.0" stroke-opacity="0.8"/>
<line x1="140.9" y1="321.05" x2="140.9" y2="314.96" stroke="#0000FF" stroke-width="1.0" stroke-opacity="0.8"/>
<line x1="138.7" y1="321.05" x2="143.1" y2="321.05" stroke="#0000FF" stroke-width="1.0" stroke-opacity="0.8"/>
<line x1="138.7" y1="314.96" x2="143.1" y2="314.96" stroke="#0000FF" stroke-width="1.0" stroke-opacity="0.8"/>
<line x1="196.5" y1="361.26" x2="196.5" y2="305.06" stroke="#0000FF" stroke-width="1.0" stroke-opacity="0.8"/>
<line x1="194.3" y1="361.26" x2="198.7" y2="361.26" stroke="#0000FF" stroke-width="1.0" stroke-opacity="0.8"/>
<line x1="194.3" y1="305.06" x2="198.7" y2="305.06" stroke="#0000FF" stroke-width="1.0" stroke-opacity="0.8"/>
<line x1="252" y1="393.7" x2="252" y2="356.84" stroke="#0000FF" stroke-width="1.0" stroke-opacity="0.8"/>
<line x1="249.8" y1="393.7" x2="254.2" y2="393.7" stroke="#0000FF" stroke-width="1.0" stroke-opacity="0.8"/>
<line x1="249.8" y1="356.84" x2="254.2" y2="356.84" stroke="#0000FF" stroke-width="1.0" stroke-opacity="0.8"/>
<line x1="307.6" y1="432.23" x2="307.6" y2="398.12" stroke="#0000FF" stroke-width="1.0" stroke-opacity="0.8"/>
<line x1="305.4" y1="432.23" x2="309.8" y2="432.23" stroke="#0000FF" stroke-width="1.0" stroke-opacity="0.8"/>
<line x1="305.4" y1="398.12" x2="309.8" y2="398.12" stroke="#0000FF" stroke-width="1.0" stroke-opacity="0.8"/>
<polygon points="91.5,444.82 94.6,450.52 88.4,450.52" fill="#0000FF"/>
<polygon points="97.4,392.58 100.5,398.28 94.3,398.28" fill="#0000FF"/>
<polygon points="103.4,373.54 106.5,379.24 100.3,379.24" fill="#0000FF"/>
<polygon points="122.3,322.83 125.4,328.53 119.2,328.53" fill="#0000FF"/>
<polygon points="140.9,314.75 144,320.45 137.8,320.45" fill="#0000FF"/>
<polygon points="159.3,309.42 162.4,315.12 156.2,315.12" fill="#0000FF"/>
<polygon points="196.5,330.44 199.6,336.14 193.4,336.14" fill="#0000FF"/>
<polygon points="252,372.17 255.1,377.87 248.9,377.87" fill="#0000FF"/>
<polygon points="307.6,411.77 310.7,417.47 304.5,417.47" fill="#0000FF"/>
<polyline points="91.5,381.97 97.4,346.94 103.4,330.65 122.3,308.26 140.9,307.96 159.3,305.37 196.5,305.06 252,304.6 307.6,305.37" fill="none" stroke="#FF00FF" stroke-width="1.0" stroke-opacity="0.8" stroke-linejoin="round"/>
<line x1="97.4" y1="350.75" x2="97.4" y2="343.14" stroke="#FF00FF" stroke-width="1.0" stroke-opacity="0.8"/>
<line x1="95.2" y1="350.75" x2="99.6" y2="350.75" stroke="#FF00FF" stroke-width="1.0" stroke-opacity="0.8"/>
<line x1="95.2" y1="343.14" x2="99.6" y2="343.14" stroke="#FF00FF" stroke-width="1.0" stroke-opacity="0.8"/>
<line x1="103.4" y1="334.76" x2="103.4" y2="326.38" stroke="#FF00FF" stroke-width="1.0" stroke-opacity="0.8"/>
<line x1="101.2" y1="334.76" x2="105.6" y2="334.76" stroke="#FF00FF" stroke-width="1.0" stroke-opacity="0.8"/>
<line x1="101.2" y1="326.38" x2="105.6" y2="326.38" stroke="#FF00FF" stroke-width="1.0" stroke-opacity="0.8"/>
<line x1="252" y1="313.44" x2="252" y2="293.94" stroke="#FF00FF" stroke-width="1.0" stroke-opacity="0.8"/>
<line x1="249.8" y1="313.44" x2="254.2" y2="313.44" stroke="#FF00FF" stroke-width="1.0" stroke-opacity="0.8"/>
<line x1="249.8" y1="293.94" x2="254.2" y2="293.94" stroke="#FF00FF" stroke-width="1.0" stroke-opacity="0.8"/>
<line x1="307.6" y1="323.49" x2="307.6" y2="287.55" stroke="#FF00FF" stroke-width="1.0" stroke-opacity="0.8"/>
<line x1="305.4" y1="323.49" x2="309.8" y2="323.49" stroke="#FF00FF" stroke-width="1.0" stroke-opacity="0.8"/>
<line x1="305.4" y1="287.55" x2="309.8" y2="287.55" stroke="#FF00FF" stroke-width="1.0" stroke-opacity="0.8"/>
<polygon points="91.5,385.07 94.6,379.37 88.4,379.37" fill="#FF00FF"/>
<polygon points="97.4,350.04 100.5,344.34 94.3,344.34" fill="#FF00FF"/>
<polygon points="103.4,333.75 106.5,328.05 100.3,328.05" fill="#FF00FF"/>
<polygon points="122.3,311.36 125.4,305.66 119.2,305.66" fill="#FF00FF"/>
<polygon points="140.9,311.06 144,305.36 137.8,305.36" fill="#FF00FF"/>
<polygon points="159.3,308.47 162.4,302.77 156.2,302.77" fill="#FF00FF"/>
<polygon points="196.5,308.16 199.6,302.46 193.4,302.46" fill="#FF00FF"/>
<polygon points="252,307.7 255.1,302 248.9,302" fill="#FF00FF"/>
<polygon points="307.6,308.47 310.7,302.77 304.5,302.77" fill="#FF00FF"/>
<polyline points="91.5,305.82 97.4,306.43 103.4,306.43 122.3,305.82 140.9,306.13 159.3,305.82 196.5,305.82 252,305.06 307.6,305.37" fill="none" stroke="#008000" stroke-width="1.0" stroke-opacity="0.8" stroke-linejoin="round"/>
<line x1="307.6" y1="339.94" x2="307.6" y2="304.3" stroke="#008000" stroke-width="1.0" stroke-opacity="0.8"/>
<line x1="305.4" y1="339.94" x2="309.8" y2="339.94" stroke="#008000" stroke-width="1.0" stroke-opacity="0.8"/>
<line x1="305.4" y1="304.3" x2="309.8" y2="304.3" stroke="#008000" stroke-width="1.0" stroke-opacity="0.8"/>
<polygon points="91.5,302.92 94.4,305.82 91.5,308.72 88.6,305.82" fill="#008000"/>
<polygon points="97.4,303.53 100.3,306.43 97.4,309.33 94.5,306.43" fill="#008000"/>
<polygon points="103.4,303.53 106.3,306.43 103.4,309.33 100.5,306.43" fill="#008000"/>
<polygon points="122.3,302.92 125.2,305.82 122.3,308.72 119.4,305.82" fill="#008000"/>
<polygon points="140.9,303.23 143.8,306.13 140.9,309.03 138,306.13" fill="#008000"/>
<polygon points="159.3,302.92 162.2,305.82 159.3,308.72 156.4,305.82" fill="#008000"/>
<polygon points="196.5,302.92 199.4,305.82 196.5,308.72 193.6,305.82" fill="#008000"/>
<polygon points="252,302.16 254.9,305.06 252,307.96 249.1,305.06" fill="#008000"/>
<polygon points="307.6,302.47 310.5,305.37 307.6,308.27 304.7,305.37" fill="#008000"/>
<line x1="307.6" y1="323.95" x2="307.6" y2="286.94" stroke="#FF00FF" stroke-width="1.0" stroke-opacity="0.8"/>
<line x1="305.4" y1="323.95" x2="309.8" y2="323.95" stroke="#FF00FF" stroke-width="1.0" stroke-opacity="0.8"/>
<line x1="305.4" y1="286.94" x2="309.8" y2="286.94" stroke="#FF00FF" stroke-width="1.0" stroke-opacity="0.8"/>
<line x1="307.6" y1="313.44" x2="307.6" y2="295.92" stroke="#FF00FF" stroke-width="1.0" stroke-opacity="0.8"/>
<line x1="305.4" y1="313.44" x2="309.8" y2="313.44" stroke="#FF00FF" stroke-width="1.0" stroke-opacity="0.8"/>
<line x1="305.4" y1="295.92" x2="309.8" y2="295.92" stroke="#FF00FF" stroke-width="1.0" stroke-opacity="0.8"/>
<polyline points="91.5,304.91 97.4,304.91 103.4,304.91 122.3,305.06 140.9,305.21 159.3,305.37 196.5,305.98 252,310.54 307.6,305.37" fill="none" stroke="#7a0a8a" stroke-width="1.4" stroke-opacity="1" stroke-linejoin="round"/>
<line x1="307.6" y1="339.48" x2="307.6" y2="273.84" stroke="#6b6be0" stroke-width="1.0" stroke-opacity="0.8"/>
<line x1="305.4" y1="339.48" x2="309.8" y2="339.48" stroke="#6b6be0" stroke-width="1.0" stroke-opacity="0.8"/>
<line x1="305.4" y1="273.84" x2="309.8" y2="273.84" stroke="#6b6be0" stroke-width="1.0" stroke-opacity="0.8"/>
<circle cx="91.5" cy="304.91" r="2.5" fill="#7a0a8a"/>
<circle cx="97.4" cy="304.91" r="2.5" fill="#7a0a8a"/>
<circle cx="103.4" cy="304.91" r="2.5" fill="#7a0a8a"/>
<circle cx="122.3" cy="305.06" r="2.5" fill="#7a0a8a"/>
<circle cx="140.9" cy="305.21" r="2.5" fill="#7a0a8a"/>
<circle cx="159.3" cy="305.37" r="2.5" fill="#7a0a8a"/>
<circle cx="196.5" cy="305.98" r="2.5" fill="#7a0a8a"/>
<circle cx="252" cy="310.54" r="2.5" fill="#7a0a8a"/>
<circle cx="307.6" cy="305.37" r="2.5" fill="#7a0a8a"/>
<circle cx="252" cy="304.6" r="2.3" fill="#7a0a8a"/>
<text x="321.81" y="337.81" font-family="Liberation Serif" font-size="8.51" fill="#111" stroke="#111" stroke-width="0.2" textLength="49.3" lengthAdjust="spacingAndGlyphs">Dilution rate</text>
<line x1="322.1" y1="344.4" x2="338.9" y2="344.4" stroke="#000000" stroke-width="1.0"/>
<rect x="328.5" y="342.1" width="4.6" height="4.6" fill="#000000"/>
<text x="340.81" y="346.87" font-family="Liberation Sans" font-size="8.03" fill="#222" textLength="4.06" lengthAdjust="spacingAndGlyphs">0</text>
<line x1="322.1" y1="354.1" x2="338.9" y2="354.1" stroke="#FF0000" stroke-width="1.0"/>
<circle cx="330.8" cy="354.1" r="2.3" fill="#FF0000"/>
<text x="340.57" y="356.57" font-family="Liberation Sans" font-size="7.76" fill="#222" textLength="25.47" lengthAdjust="spacingAndGlyphs">1/50000</text>
<line x1="322.1" y1="363.7" x2="338.9" y2="363.7" stroke="#0000FF" stroke-width="1.0"/>
<polygon points="330.8,360.8 333.7,366.1 327.9,366.1" fill="#0000FF"/>
<text x="340.57" y="366.17" font-family="Liberation Sans" font-size="7.76" fill="#222" textLength="25.47" lengthAdjust="spacingAndGlyphs">1/10000</text>
<line x1="322.1" y1="373" x2="338.9" y2="373" stroke="#FF00FF" stroke-width="1.0"/>
<polygon points="330.8,375.9 333.7,370.6 327.9,370.6" fill="#FF00FF"/>
<text x="340.57" y="375.47" font-family="Liberation Sans" font-size="7.76" fill="#222" textLength="21.55" lengthAdjust="spacingAndGlyphs">1/5000</text>
<line x1="322.1" y1="382.6" x2="338.9" y2="382.6" stroke="#008000" stroke-width="1.0"/>
<polygon points="330.8,379.9 333.5,382.6 330.8,385.3 328.1,382.6" fill="#008000"/>
<text x="340.57" y="385.07" font-family="Liberation Sans" font-size="7.76" fill="#222" textLength="21.55" lengthAdjust="spacingAndGlyphs">1/1000</text>
<line x1="322.1" y1="392.2" x2="338.9" y2="392.2" stroke="#000080" stroke-width="1.0"/>
<polygon points="327.9,392.2 333.2,389.4 333.2,395" fill="#000080"/>
<text x="340.57" y="394.67" font-family="Liberation Sans" font-size="7.76" fill="#222" textLength="17.64" lengthAdjust="spacingAndGlyphs">1/500</text>
<line x1="465.4" y1="32.1" x2="465.4" y2="228.35" stroke="#3a3a3a" stroke-width="1.3"/>
<line x1="464.75" y1="227.7" x2="731" y2="227.7" stroke="#3a3a3a" stroke-width="1.3"/>
<line x1="465.4" y1="211.4" x2="469.2" y2="211.4" stroke="#3a3a3a" stroke-width="1.2"/>
<text x="457.03" y="214.15" font-family="Liberation Serif" font-size="10.22" fill="#1a1a1a" stroke="#1a1a1a" stroke-width="0.2" textLength="4.75" lengthAdjust="spacingAndGlyphs">0</text>
<line x1="465.4" y1="178.78" x2="469.2" y2="178.78" stroke="#3a3a3a" stroke-width="1.2"/>
<text x="452.27" y="181.53" font-family="Liberation Serif" font-size="10.22" fill="#1a1a1a" stroke="#1a1a1a" stroke-width="0.2" textLength="9.51" lengthAdjust="spacingAndGlyphs">20</text>
<line x1="465.4" y1="146.16" x2="469.2" y2="146.16" stroke="#3a3a3a" stroke-width="1.2"/>
<text x="452.27" y="148.91" font-family="Liberation Serif" font-size="10.22" fill="#1a1a1a" stroke="#1a1a1a" stroke-width="0.2" textLength="9.51" lengthAdjust="spacingAndGlyphs">40</text>
<line x1="465.4" y1="113.54" x2="469.2" y2="113.54" stroke="#3a3a3a" stroke-width="1.2"/>
<text x="452.27" y="116.29" font-family="Liberation Serif" font-size="10.22" fill="#1a1a1a" stroke="#1a1a1a" stroke-width="0.2" textLength="9.51" lengthAdjust="spacingAndGlyphs">60</text>
<line x1="465.4" y1="80.92" x2="469.2" y2="80.92" stroke="#3a3a3a" stroke-width="1.2"/>
<text x="452.27" y="83.67" font-family="Liberation Serif" font-size="10.22" fill="#1a1a1a" stroke="#1a1a1a" stroke-width="0.2" textLength="9.51" lengthAdjust="spacingAndGlyphs">80</text>
<line x1="465.4" y1="48.3" x2="469.2" y2="48.3" stroke="#3a3a3a" stroke-width="1.2"/>
<text x="447.52" y="51.05" font-family="Liberation Serif" font-size="10.22" fill="#1a1a1a" stroke="#1a1a1a" stroke-width="0.2" textLength="14.26" lengthAdjust="spacingAndGlyphs">100</text>
<line x1="478.4" y1="227.7" x2="478.4" y2="223.9" stroke="#3a3a3a" stroke-width="1.2"/>
<line x1="485.2" y1="227.7" x2="485.2" y2="223.9" stroke="#3a3a3a" stroke-width="1.2"/>
<line x1="491.4" y1="227.7" x2="491.4" y2="223.9" stroke="#3a3a3a" stroke-width="1.2"/>
<line x1="510" y1="227.7" x2="510" y2="223.9" stroke="#3a3a3a" stroke-width="1.2"/>
<line x1="528.9" y1="227.7" x2="528.9" y2="223.9" stroke="#3a3a3a" stroke-width="1.2"/>
<line x1="548.2" y1="227.7" x2="548.2" y2="223.9" stroke="#3a3a3a" stroke-width="1.2"/>
<line x1="585.9" y1="227.7" x2="585.9" y2="223.9" stroke="#3a3a3a" stroke-width="1.2"/>
<line x1="642.9" y1="227.7" x2="642.9" y2="223.9" stroke="#3a3a3a" stroke-width="1.2"/>
<line x1="699.8" y1="227.7" x2="699.8" y2="223.9" stroke="#3a3a3a" stroke-width="1.2"/>
<text x="469.72" y="236.4" font-family="Liberation Serif" font-size="9.63" fill="#1a1a1a" stroke="#1a1a1a" stroke-width="0.2" textLength="8.96" lengthAdjust="spacingAndGlyphs">10</text>
<text x="479.1" y="236.4" font-family="Liberation Serif" font-size="9.63" fill="#1a1a1a" stroke="#1a1a1a" stroke-width="0.2" textLength="8.96" lengthAdjust="spacingAndGlyphs">30</text>
<text x="489.75" y="236.5" font-family="Liberation Serif" font-size="9.85" fill="#1a1a1a" stroke="#1a1a1a" stroke-width="0.2" textLength="4.58" lengthAdjust="spacingAndGlyphs">1</text>
<text x="507.29" y="236.5" font-family="Liberation Serif" font-size="9.85" fill="#1a1a1a" stroke="#1a1a1a" stroke-width="0.2" textLength="4.58" lengthAdjust="spacingAndGlyphs">4</text>
<text x="526.66" y="236.4" font-family="Liberation Serif" font-size="9.63" fill="#1a1a1a" stroke="#1a1a1a" stroke-width="0.2" textLength="4.48" lengthAdjust="spacingAndGlyphs">8</text>
<text x="543.48" y="236.5" font-family="Liberation Serif" font-size="9.85" fill="#1a1a1a" stroke="#1a1a1a" stroke-width="0.2" textLength="9.16" lengthAdjust="spacingAndGlyphs">12</text>
<text x="583.5" y="236.5" font-family="Liberation Serif" font-size="9.85" fill="#1a1a1a" stroke="#1a1a1a" stroke-width="0.2" textLength="4.58" lengthAdjust="spacingAndGlyphs">1</text>
<text x="640.59" y="236.5" font-family="Liberation Serif" font-size="9.85" fill="#1a1a1a" stroke="#1a1a1a" stroke-width="0.2" textLength="4.58" lengthAdjust="spacingAndGlyphs">4</text>
<text x="697.33" y="236.5" font-family="Liberation Serif" font-size="9.92" fill="#1a1a1a" stroke="#1a1a1a" stroke-width="0.2" textLength="4.61" lengthAdjust="spacingAndGlyphs">7</text>
<line x1="471.3" y1="241.5" x2="487.6" y2="241.5" stroke="#3a3a3a" stroke-width="1.3"/>
<line x1="491.8" y1="241.4" x2="556.2" y2="241.4" stroke="#3a3a3a" stroke-width="1.3"/>
<line x1="580" y1="241.3" x2="711.1" y2="241.3" stroke="#3a3a3a" stroke-width="1.3"/>
<text x="472.62" y="249.7" font-family="Liberation Serif" font-size="6.21" fill="#1a1a1a" stroke="#1a1a1a" stroke-width="0.2" textLength="13.61" lengthAdjust="spacingAndGlyphs">min</text>
<text x="520" y="249.8" font-family="Liberation Serif" font-size="8.78" fill="#1a1a1a" stroke="#1a1a1a" stroke-width="0.2" textLength="4.95" lengthAdjust="spacingAndGlyphs">h</text>
<text x="641.89" y="249.72" font-family="Liberation Serif" font-size="8.23" fill="#1a1a1a" stroke="#1a1a1a" stroke-width="0.2" textLength="4.4" lengthAdjust="spacingAndGlyphs">d</text>
<text x="581.09" y="253.9" font-family="Liberation Serif" font-size="10.3" fill="#1a1a1a" stroke="#1a1a1a" stroke-width="0.2" textLength="21.47" lengthAdjust="spacingAndGlyphs">Time</text>
<polyline points="478.4,209.44 485.2,208.14 491.4,201.12 510,204.88 528.9,211.07 548.2,210.26 585.9,209.44 642.9,207.81 699.8,209.77" fill="none" stroke="#000000" stroke-width="1.0" stroke-opacity="0.8" stroke-linejoin="round"/>
<rect x="475.9" y="206.94" width="5" height="5" fill="#000000"/>
<rect x="482.7" y="205.64" width="5" height="5" fill="#000000"/>
<rect x="488.9" y="198.62" width="5" height="5" fill="#000000"/>
<rect x="507.5" y="202.38" width="5" height="5" fill="#000000"/>
<rect x="526.4" y="208.57" width="5" height="5" fill="#000000"/>
<rect x="545.7" y="207.76" width="5" height="5" fill="#000000"/>
<rect x="583.4" y="206.94" width="5" height="5" fill="#000000"/>
<rect x="640.4" y="205.31" width="5" height="5" fill="#000000"/>
<rect x="697.3" y="207.27" width="5" height="5" fill="#000000"/>
<polyline points="478.4,195.58 485.2,205.2 491.4,172.75 510,96.09 528.9,58.25 548.2,59.23 585.9,55.15 642.9,55.15 699.8,53.19" fill="none" stroke="#FF0000" stroke-width="1.0" stroke-opacity="0.8" stroke-linejoin="round"/>
<line x1="510" y1="126.59" x2="510" y2="65.26" stroke="#FF0000" stroke-width="1.0" stroke-opacity="0.8"/>
<line x1="507.8" y1="126.59" x2="512.2" y2="126.59" stroke="#FF0000" stroke-width="1.0" stroke-opacity="0.8"/>
<line x1="507.8" y1="65.26" x2="512.2" y2="65.26" stroke="#FF0000" stroke-width="1.0" stroke-opacity="0.8"/>
<line x1="528.9" y1="64.94" x2="528.9" y2="51.4" stroke="#FF0000" stroke-width="1.0" stroke-opacity="0.8"/>
<line x1="526.7" y1="64.94" x2="531.1" y2="64.94" stroke="#FF0000" stroke-width="1.0" stroke-opacity="0.8"/>
<line x1="526.7" y1="51.4" x2="531.1" y2="51.4" stroke="#FF0000" stroke-width="1.0" stroke-opacity="0.8"/>
<line x1="548.2" y1="63.14" x2="548.2" y2="55.48" stroke="#FF0000" stroke-width="1.0" stroke-opacity="0.8"/>
<line x1="546" y1="63.14" x2="550.4" y2="63.14" stroke="#FF0000" stroke-width="1.0" stroke-opacity="0.8"/>
<line x1="546" y1="55.48" x2="550.4" y2="55.48" stroke="#FF0000" stroke-width="1.0" stroke-opacity="0.8"/>
<circle cx="478.4" cy="195.58" r="2.5" fill="#FF0000"/>
<circle cx="485.2" cy="205.2" r="2.5" fill="#FF0000"/>
<circle cx="491.4" cy="172.75" r="2.5" fill="#FF0000"/>
<circle cx="510" cy="96.09" r="2.5" fill="#FF0000"/>
<circle cx="528.9" cy="58.25" r="2.5" fill="#FF0000"/>
<circle cx="548.2" cy="59.23" r="2.5" fill="#FF0000"/>
<circle cx="585.9" cy="55.15" r="2.5" fill="#FF0000"/>
<circle cx="642.9" cy="55.15" r="2.5" fill="#FF0000"/>
<circle cx="699.8" cy="53.19" r="2.5" fill="#FF0000"/>
<polyline points="478.4,48.79 485.2,48.79 491.4,48.79 510,48.79 528.9,48.79 548.2,48.79 585.9,48.79 642.9,48.79 699.8,48.79" fill="none" stroke="#4a4ab8" stroke-width="1.3" stroke-opacity="1" stroke-linejoin="round"/>
<polygon points="475.3,48.79 481,45.79 481,51.79" fill="#000080"/>
<polygon points="482.1,48.79 487.8,45.79 487.8,51.79" fill="#000080"/>
<polygon points="488.3,48.79 494,45.79 494,51.79" fill="#000080"/>
<polygon points="506.9,48.79 512.6,45.79 512.6,51.79" fill="#000080"/>
<polygon points="525.8,48.79 531.5,45.79 531.5,51.79" fill="#000080"/>
<polygon points="545.1,48.79 550.8,45.79 550.8,51.79" fill="#000080"/>
<polygon points="582.8,48.79 588.5,45.79 588.5,51.79" fill="#000080"/>
<polygon points="639.8,48.79 645.5,45.79 645.5,51.79" fill="#000080"/>
<polygon points="696.7,48.79 702.4,45.79 702.4,51.79" fill="#000080"/>
<polyline points="478.4,48.95 485.2,48.79 491.4,48.79 510,48.79 528.9,48.79 548.2,48.79 585.9,48.79 642.9,48.79 699.8,48.79" fill="none" stroke="#FF00FF" stroke-width="1.0" stroke-opacity="0.0" stroke-linejoin="round"/>
<polygon points="478.4,52.05 481.5,46.35 475.3,46.35" fill="#FF00FF"/>
<polygon points="485.2,51.89 488.3,46.19 482.1,46.19" fill="#FF00FF"/>
<polygon points="491.4,51.89 494.5,46.19 488.3,46.19" fill="#FF00FF"/>
<polygon points="510,51.89 513.1,46.19 506.9,46.19" fill="#FF00FF"/>
<polygon points="528.9,51.89 532,46.19 525.8,46.19" fill="#FF00FF"/>
<polygon points="548.2,51.89 551.3,46.19 545.1,46.19" fill="#FF00FF"/>
<polygon points="585.9,51.89 589,46.19 582.8,46.19" fill="#FF00FF"/>
<polygon points="642.9,51.89 646,46.19 639.8,46.19" fill="#FF00FF"/>
<polygon points="699.8,51.89 702.9,46.19 696.7,46.19" fill="#FF00FF"/>
<polyline points="478.4,48.46 485.2,48.46 491.4,48.46 510,48.79 528.9,48.79 548.2,48.79 585.9,48.79 642.9,48.79 699.8,48.79" fill="none" stroke="#008000" stroke-width="1.0" stroke-opacity="0.0" stroke-linejoin="round"/>
<polygon points="478.4,45.56 481.3,48.46 478.4,51.36 475.5,48.46" fill="#008000"/>
<polygon points="485.2,45.56 488.1,48.46 485.2,51.36 482.3,48.46" fill="#008000"/>
<polygon points="491.4,45.56 494.3,48.46 491.4,51.36 488.5,48.46" fill="#008000"/>
<polygon points="510,45.89 512.9,48.79 510,51.69 507.1,48.79" fill="#008000"/>
<polygon points="528.9,45.89 531.8,48.79 528.9,51.69 526,48.79" fill="#008000"/>
<polygon points="548.2,45.89 551.1,48.79 548.2,51.69 545.3,48.79" fill="#008000"/>
<polygon points="585.9,45.89 588.8,48.79 585.9,51.69 583,48.79" fill="#008000"/>
<polygon points="642.9,45.89 645.8,48.79 642.9,51.69 640,48.79" fill="#008000"/>
<polygon points="699.8,45.89 702.7,48.79 699.8,51.69 696.9,48.79" fill="#008000"/>
<polyline points="478.4,51.24 485.2,49.77 491.4,49.44" fill="none" stroke="#0000FF" stroke-width="1.0" stroke-opacity="0.0" stroke-linejoin="round"/>
<polygon points="478.4,48.14 481.5,53.84 475.3,53.84" fill="#0000FF"/>
<polygon points="485.2,46.67 488.3,52.37 482.1,52.37" fill="#0000FF"/>
<polygon points="491.4,46.34 494.5,52.04 488.3,52.04" fill="#0000FF"/>
<polygon points="478.4,52.73 481.2,47.63 475.6,47.63" fill="#FF00FF"/>
<polyline points="510,48.79 528.9,48.79 548.2,48.79 585.9,48.79 642.9,48.79 699.8,48.79" fill="none" stroke="#000080" stroke-width="1.0" stroke-opacity="0.0" stroke-linejoin="round"/>
<polygon points="506.9,48.79 512.6,45.79 512.6,51.79" fill="#000080"/>
<polygon points="525.8,48.79 531.5,45.79 531.5,51.79" fill="#000080"/>
<polygon points="545.1,48.79 550.8,45.79 550.8,51.79" fill="#000080"/>
<polygon points="582.8,48.79 588.5,45.79 588.5,51.79" fill="#000080"/>
<polygon points="639.8,48.79 645.5,45.79 645.5,51.79" fill="#000080"/>
<polygon points="696.7,48.79 702.4,45.79 702.4,51.79" fill="#000080"/>
<text x="686.92" y="92.71" font-family="Liberation Serif" font-size="8.51" fill="#111" stroke="#111" stroke-width="0.2" textLength="47.07" lengthAdjust="spacingAndGlyphs">Dilution rate</text>
<line x1="690.1" y1="99.1" x2="705.3" y2="99.1" stroke="#000000" stroke-width="1.0"/>
<rect x="695.8" y="96.8" width="4.6" height="4.6" fill="#000000"/>
<text x="707.53" y="101.23" font-family="Liberation Sans" font-size="7.18" fill="#222" textLength="3.7" lengthAdjust="spacingAndGlyphs">0</text>
<line x1="690.1" y1="107.8" x2="705.3" y2="107.8" stroke="#FF0000" stroke-width="1.0"/>
<circle cx="698.1" cy="107.8" r="2.3" fill="#FF0000"/>
<text x="707.32" y="109.93" font-family="Liberation Sans" font-size="6.94" fill="#222" textLength="23.21" lengthAdjust="spacingAndGlyphs">1/50000</text>
<line x1="690.1" y1="116.3" x2="705.3" y2="116.3" stroke="#0000FF" stroke-width="1.0"/>
<polygon points="698.1,113.4 701,118.7 695.2,118.7" fill="#0000FF"/>
<text x="707.32" y="118.43" font-family="Liberation Sans" font-size="6.94" fill="#222" textLength="23.21" lengthAdjust="spacingAndGlyphs">1/10000</text>
<line x1="690.1" y1="124.9" x2="705.3" y2="124.9" stroke="#FF00FF" stroke-width="1.0"/>
<polygon points="698.1,127.8 701,122.5 695.2,122.5" fill="#FF00FF"/>
<text x="707.32" y="127.03" font-family="Liberation Sans" font-size="6.94" fill="#222" textLength="19.63" lengthAdjust="spacingAndGlyphs">1/5000</text>
<line x1="690.1" y1="133.4" x2="705.3" y2="133.4" stroke="#008000" stroke-width="1.0"/>
<polygon points="698.1,130.7 700.8,133.4 698.1,136.1 695.4,133.4" fill="#008000"/>
<text x="707.32" y="135.53" font-family="Liberation Sans" font-size="6.94" fill="#222" textLength="19.63" lengthAdjust="spacingAndGlyphs">1/1000</text>
<line x1="690.1" y1="142" x2="705.3" y2="142" stroke="#000080" stroke-width="1.0"/>
<polygon points="695.2,142 700.5,139.2 700.5,144.8" fill="#000080"/>
<text x="707.32" y="144.13" font-family="Liberation Sans" font-size="6.94" fill="#222" textLength="16.06" lengthAdjust="spacingAndGlyphs">1/500</text>
<line x1="464.6" y1="273" x2="464.6" y2="473.95" stroke="#3a3a3a" stroke-width="1.3"/>
<line x1="463.95" y1="473.3" x2="730.9" y2="473.3" stroke="#3a3a3a" stroke-width="1.3"/>
<line x1="464.6" y1="456.6" x2="468.4" y2="456.6" stroke="#3a3a3a" stroke-width="1.2"/>
<text x="456.33" y="459.35" font-family="Liberation Serif" font-size="10.22" fill="#1a1a1a" stroke="#1a1a1a" stroke-width="0.2" textLength="4.75" lengthAdjust="spacingAndGlyphs">0</text>
<line x1="464.6" y1="423.26" x2="468.4" y2="423.26" stroke="#3a3a3a" stroke-width="1.2"/>
<text x="451.57" y="426.01" font-family="Liberation Serif" font-size="10.22" fill="#1a1a1a" stroke="#1a1a1a" stroke-width="0.2" textLength="9.51" lengthAdjust="spacingAndGlyphs">20</text>
<line x1="464.6" y1="389.92" x2="468.4" y2="389.92" stroke="#3a3a3a" stroke-width="1.2"/>
<text x="451.57" y="392.67" font-family="Liberation Serif" font-size="10.22" fill="#1a1a1a" stroke="#1a1a1a" stroke-width="0.2" textLength="9.51" lengthAdjust="spacingAndGlyphs">40</text>
<line x1="464.6" y1="356.58" x2="468.4" y2="356.58" stroke="#3a3a3a" stroke-width="1.2"/>
<text x="451.57" y="359.33" font-family="Liberation Serif" font-size="10.22" fill="#1a1a1a" stroke="#1a1a1a" stroke-width="0.2" textLength="9.51" lengthAdjust="spacingAndGlyphs">60</text>
<line x1="464.6" y1="323.24" x2="468.4" y2="323.24" stroke="#3a3a3a" stroke-width="1.2"/>
<text x="451.57" y="325.99" font-family="Liberation Serif" font-size="10.22" fill="#1a1a1a" stroke="#1a1a1a" stroke-width="0.2" textLength="9.51" lengthAdjust="spacingAndGlyphs">80</text>
<line x1="464.6" y1="289.9" x2="468.4" y2="289.9" stroke="#3a3a3a" stroke-width="1.2"/>
<text x="446.82" y="292.65" font-family="Liberation Serif" font-size="10.22" fill="#1a1a1a" stroke="#1a1a1a" stroke-width="0.2" textLength="14.26" lengthAdjust="spacingAndGlyphs">100</text>
<line x1="477.5" y1="473.3" x2="477.5" y2="469.5" stroke="#3a3a3a" stroke-width="1.2"/>
<line x1="484.4" y1="473.3" x2="484.4" y2="469.5" stroke="#3a3a3a" stroke-width="1.2"/>
<line x1="490.6" y1="473.3" x2="490.6" y2="469.5" stroke="#3a3a3a" stroke-width="1.2"/>
<line x1="509.4" y1="473.3" x2="509.4" y2="469.5" stroke="#3a3a3a" stroke-width="1.2"/>
<line x1="528.1" y1="473.3" x2="528.1" y2="469.5" stroke="#3a3a3a" stroke-width="1.2"/>
<line x1="547.5" y1="473.3" x2="547.5" y2="469.5" stroke="#3a3a3a" stroke-width="1.2"/>
<line x1="585.2" y1="473.3" x2="585.2" y2="469.5" stroke="#3a3a3a" stroke-width="1.2"/>
<line x1="642.6" y1="473.3" x2="642.6" y2="469.5" stroke="#3a3a3a" stroke-width="1.2"/>
<line x1="699.4" y1="473.3" x2="699.4" y2="469.5" stroke="#3a3a3a" stroke-width="1.2"/>
<text x="468.96" y="482.31" font-family="Liberation Serif" font-size="9.33" fill="#1a1a1a" stroke="#1a1a1a" stroke-width="0.2" textLength="8.68" lengthAdjust="spacingAndGlyphs">10</text>
<text x="478.44" y="482.31" font-family="Liberation Serif" font-size="9.33" fill="#1a1a1a" stroke="#1a1a1a" stroke-width="0.2" textLength="8.68" lengthAdjust="spacingAndGlyphs">30</text>
<text x="489.02" y="482.4" font-family="Liberation Serif" font-size="9.55" fill="#1a1a1a" stroke="#1a1a1a" stroke-width="0.2" textLength="4.44" lengthAdjust="spacingAndGlyphs">1</text>
<text x="506.76" y="482.4" font-family="Liberation Serif" font-size="9.55" fill="#1a1a1a" stroke="#1a1a1a" stroke-width="0.2" textLength="4.44" lengthAdjust="spacingAndGlyphs">4</text>
<text x="525.93" y="482.31" font-family="Liberation Serif" font-size="9.33" fill="#1a1a1a" stroke="#1a1a1a" stroke-width="0.2" textLength="4.34" lengthAdjust="spacingAndGlyphs">8</text>
<text x="542.93" y="482.4" font-family="Liberation Serif" font-size="9.55" fill="#1a1a1a" stroke="#1a1a1a" stroke-width="0.2" textLength="8.88" lengthAdjust="spacingAndGlyphs">12</text>
<text x="582.87" y="482.4" font-family="Liberation Serif" font-size="9.55" fill="#1a1a1a" stroke="#1a1a1a" stroke-width="0.2" textLength="4.44" lengthAdjust="spacingAndGlyphs">1</text>
<text x="640.36" y="482.4" font-family="Liberation Serif" font-size="9.55" fill="#1a1a1a" stroke="#1a1a1a" stroke-width="0.2" textLength="4.44" lengthAdjust="spacingAndGlyphs">4</text>
<text x="697.01" y="482.4" font-family="Liberation Serif" font-size="9.62" fill="#1a1a1a" stroke="#1a1a1a" stroke-width="0.2" textLength="4.47" lengthAdjust="spacingAndGlyphs">7</text>
<line x1="470.4" y1="487.4" x2="486.8" y2="487.4" stroke="#3a3a3a" stroke-width="1.3"/>
<line x1="490.9" y1="487.4" x2="555.4" y2="487.4" stroke="#3a3a3a" stroke-width="1.3"/>
<line x1="579.4" y1="487.4" x2="710.4" y2="487.4" stroke="#3a3a3a" stroke-width="1.3"/>
<text x="471.73" y="496.8" font-family="Liberation Serif" font-size="8.03" fill="#1a1a1a" stroke="#1a1a1a" stroke-width="0.2" textLength="13.51" lengthAdjust="spacingAndGlyphs">min</text>
<text x="519.2" y="496.8" font-family="Liberation Serif" font-size="9.06" fill="#1a1a1a" stroke="#1a1a1a" stroke-width="0.2" textLength="4.84" lengthAdjust="spacingAndGlyphs">h</text>
<text x="641.27" y="495.72" font-family="Liberation Serif" font-size="8.23" fill="#1a1a1a" stroke="#1a1a1a" stroke-width="0.2" textLength="4.73" lengthAdjust="spacingAndGlyphs">d</text>
<text x="580.7" y="496.69" font-family="Liberation Serif" font-size="10.75" fill="#1a1a1a" stroke="#1a1a1a" stroke-width="0.2" textLength="20.96" lengthAdjust="spacingAndGlyphs">Time</text>
<polyline points="477.5,453.93 484.4,453.93 490.6,453.93 509.4,454.27 528.1,453.93 547.5,454.27 585.2,453.77 642.6,453.77 699.4,453.77" fill="none" stroke="#000000" stroke-width="1.0" stroke-opacity="0.8" stroke-linejoin="round"/>
<rect x="475" y="451.43" width="5" height="5" fill="#000000"/>
<rect x="481.9" y="451.43" width="5" height="5" fill="#000000"/>
<rect x="488.1" y="451.43" width="5" height="5" fill="#000000"/>
<rect x="506.9" y="451.77" width="5" height="5" fill="#000000"/>
<rect x="525.6" y="451.43" width="5" height="5" fill="#000000"/>
<rect x="545" y="451.77" width="5" height="5" fill="#000000"/>
<rect x="582.7" y="451.27" width="5" height="5" fill="#000000"/>
<rect x="640.1" y="451.27" width="5" height="5" fill="#000000"/>
<rect x="696.9" y="451.27" width="5" height="5" fill="#000000"/>
<polyline points="477.5,453.1 484.4,453.43 490.6,451.93 509.4,451.27 528.1,452.43 547.5,452.77 585.2,447.26 642.6,449.93 699.4,453.27" fill="none" stroke="#FF0000" stroke-width="1.0" stroke-opacity="0.8" stroke-linejoin="round"/>
<circle cx="477.5" cy="453.1" r="2.5" fill="#FF0000"/>
<circle cx="484.4" cy="453.43" r="2.5" fill="#FF0000"/>
<circle cx="490.6" cy="451.93" r="2.5" fill="#FF0000"/>
<circle cx="509.4" cy="451.27" r="2.5" fill="#FF0000"/>
<circle cx="528.1" cy="452.43" r="2.5" fill="#FF0000"/>
<circle cx="547.5" cy="452.77" r="2.5" fill="#FF0000"/>
<circle cx="585.2" cy="447.26" r="2.5" fill="#FF0000"/>
<circle cx="642.6" cy="449.93" r="2.5" fill="#FF0000"/>
<circle cx="699.4" cy="453.27" r="2.5" fill="#FF0000"/>
<polyline points="477.5,451.27 484.4,445.26 490.6,428.43 509.4,363.25 528.1,346.08 547.5,326.07 585.2,323.07 642.6,389.75 699.4,419.59" fill="none" stroke="#0000FF" stroke-width="1.0" stroke-opacity="0.8" stroke-linejoin="round"/>
<line x1="509.4" y1="366.58" x2="509.4" y2="359.91" stroke="#0000FF" stroke-width="1.0" stroke-opacity="0.8"/>
<line x1="507.2" y1="366.58" x2="511.6" y2="366.58" stroke="#0000FF" stroke-width="1.0" stroke-opacity="0.8"/>
<line x1="507.2" y1="359.91" x2="511.6" y2="359.91" stroke="#0000FF" stroke-width="1.0" stroke-opacity="0.8"/>
<polygon points="477.5,448.17 480.6,453.87 474.4,453.87" fill="#0000FF"/>
<polygon points="484.4,442.16 487.5,447.86 481.3,447.86" fill="#0000FF"/>
<polygon points="490.6,425.33 493.7,431.03 487.5,431.03" fill="#0000FF"/>
<polygon points="509.4,360.15 512.5,365.85 506.3,365.85" fill="#0000FF"/>
<polygon points="528.1,342.98 531.2,348.68 525,348.68" fill="#0000FF"/>
<polygon points="547.5,322.97 550.6,328.67 544.4,328.67" fill="#0000FF"/>
<polygon points="585.2,319.97 588.3,325.67 582.1,325.67" fill="#0000FF"/>
<polygon points="642.6,386.65 645.7,392.35 639.5,392.35" fill="#0000FF"/>
<polygon points="699.4,416.49 702.5,422.19 696.3,422.19" fill="#0000FF"/>
<polyline points="477.5,446.43 484.4,440.26 490.6,385.92 509.4,294.73 528.1,289.9 547.5,289.9 585.2,289.9 642.6,289.9 699.4,289.9" fill="none" stroke="#FF00FF" stroke-width="1.0" stroke-opacity="0.8" stroke-linejoin="round"/>
<line x1="484.4" y1="443.26" x2="484.4" y2="436.6" stroke="#FF00FF" stroke-width="1.0" stroke-opacity="0.8"/>
<line x1="482.2" y1="443.26" x2="486.6" y2="443.26" stroke="#FF00FF" stroke-width="1.0" stroke-opacity="0.8"/>
<line x1="482.2" y1="436.6" x2="486.6" y2="436.6" stroke="#FF00FF" stroke-width="1.0" stroke-opacity="0.8"/>
<line x1="490.6" y1="406.92" x2="490.6" y2="364.58" stroke="#FF00FF" stroke-width="1.0" stroke-opacity="0.8"/>
<line x1="488.4" y1="406.92" x2="492.8" y2="406.92" stroke="#FF00FF" stroke-width="1.0" stroke-opacity="0.8"/>
<line x1="488.4" y1="364.58" x2="492.8" y2="364.58" stroke="#FF00FF" stroke-width="1.0" stroke-opacity="0.8"/>
<polygon points="477.5,449.53 480.6,443.83 474.4,443.83" fill="#FF00FF"/>
<polygon points="484.4,443.36 487.5,437.66 481.3,437.66" fill="#FF00FF"/>
<polygon points="490.6,389.02 493.7,383.32 487.5,383.32" fill="#FF00FF"/>
<polygon points="509.4,297.83 512.5,292.13 506.3,292.13" fill="#FF00FF"/>
<polygon points="528.1,293 531.2,287.3 525,287.3" fill="#FF00FF"/>
<polygon points="547.5,293 550.6,287.3 544.4,287.3" fill="#FF00FF"/>
<polygon points="585.2,293 588.3,287.3 582.1,287.3" fill="#FF00FF"/>
<polygon points="642.6,293 645.7,287.3 639.5,287.3" fill="#FF00FF"/>
<polygon points="699.4,293 702.5,287.3 696.3,287.3" fill="#FF00FF"/>
<polyline points="477.5,290.73 484.4,293.23 490.6,290.73 509.4,289.9 528.1,289.9 547.5,289.9 585.2,289.9 642.6,289.9 699.4,290.73" fill="none" stroke="#008000" stroke-width="1.0" stroke-opacity="0.3" stroke-linejoin="round"/>
<polygon points="477.5,287.83 480.4,290.73 477.5,293.63 474.6,290.73" fill="#008000"/>
<polygon points="484.4,290.33 487.3,293.23 484.4,296.13 481.5,293.23" fill="#008000"/>
<polygon points="490.6,287.83 493.5,290.73 490.6,293.63 487.7,290.73" fill="#008000"/>
<polygon points="509.4,287 512.3,289.9 509.4,292.8 506.5,289.9" fill="#008000"/>
<polygon points="528.1,287 531,289.9 528.1,292.8 525.2,289.9" fill="#008000"/>
<polygon points="547.5,287 550.4,289.9 547.5,292.8 544.6,289.9" fill="#008000"/>
<polygon points="585.2,287 588.1,289.9 585.2,292.8 582.3,289.9" fill="#008000"/>
<polygon points="642.6,287 645.5,289.9 642.6,292.8 639.7,289.9" fill="#008000"/>
<polygon points="699.4,287.83 702.3,290.73 699.4,293.63 696.5,290.73" fill="#008000"/>
<polyline points="477.5,289.9 484.4,289.9 490.6,289.9 509.4,289.9 528.1,289.9 547.5,289.9 585.2,289.9 642.6,289.9 699.4,289.9" fill="none" stroke="#7c7cc8" stroke-width="1.4" stroke-opacity="1" stroke-linejoin="round"/>
<polygon points="474.4,289.9 480.1,286.9 480.1,292.9" fill="#000080"/>
<polygon points="481.3,289.9 487,286.9 487,292.9" fill="#000080"/>
<polygon points="487.5,289.9 493.2,286.9 493.2,292.9" fill="#000080"/>
<polygon points="506.3,289.9 512,286.9 512,292.9" fill="#000080"/>
<polygon points="525,289.9 530.7,286.9 530.7,292.9" fill="#000080"/>
<polygon points="544.4,289.9 550.1,286.9 550.1,292.9" fill="#000080"/>
<polygon points="582.1,289.9 587.8,286.9 587.8,292.9" fill="#000080"/>
<polygon points="639.5,289.9 645.2,286.9 645.2,292.9" fill="#000080"/>
<polygon points="696.3,289.9 702,286.9 702,292.9" fill="#000080"/>
<text x="703.03" y="337.02" font-family="Liberation Serif" font-size="8.37" fill="#111" stroke="#111" stroke-width="0.2" textLength="46.37" lengthAdjust="spacingAndGlyphs">Dilution rate</text>
<line x1="702.5" y1="344.7" x2="716.8" y2="344.7" stroke="#000000" stroke-width="1.0"/>
<rect x="707.3" y="342.5" width="4.4" height="4.4" fill="#000000"/>
<text x="720.32" y="347.03" font-family="Liberation Sans" font-size="6.76" fill="#444" textLength="3.94" lengthAdjust="spacingAndGlyphs">0</text>
<line x1="702.5" y1="352.4" x2="716.8" y2="352.4" stroke="#FF0000" stroke-width="1.0"/>
<circle cx="709.5" cy="352.4" r="2.2" fill="#FF0000"/>
<text x="720.09" y="354.73" font-family="Liberation Sans" font-size="6.53" fill="#444" textLength="24.75" lengthAdjust="spacingAndGlyphs">1/50000</text>
<line x1="702.5" y1="360.2" x2="716.8" y2="360.2" stroke="#0000FF" stroke-width="1.0"/>
<polygon points="709.5,357.4 712.3,362.5 706.7,362.5" fill="#0000FF"/>
<text x="720.09" y="362.53" font-family="Liberation Sans" font-size="6.53" fill="#444" textLength="24.75" lengthAdjust="spacingAndGlyphs">1/10000</text>
<line x1="702.5" y1="368" x2="716.8" y2="368" stroke="#FF00FF" stroke-width="1.0"/>
<polygon points="709.5,370.8 712.3,365.7 706.7,365.7" fill="#FF00FF"/>
<text x="720.09" y="370.33" font-family="Liberation Sans" font-size="6.53" fill="#444" textLength="20.94" lengthAdjust="spacingAndGlyphs">1/5000</text>
<line x1="702.5" y1="375.8" x2="716.8" y2="375.8" stroke="#008000" stroke-width="1.0"/>
<polygon points="709.5,373.2 712.1,375.8 709.5,378.4 706.9,375.8" fill="#008000"/>
<text x="720.09" y="378.13" font-family="Liberation Sans" font-size="6.53" fill="#444" textLength="20.94" lengthAdjust="spacingAndGlyphs">1/1000</text>
<line x1="702.5" y1="384" x2="716.8" y2="384" stroke="#000080" stroke-width="1.0"/>
<polygon points="706.7,384 711.8,381.3 711.8,386.7" fill="#000080"/>
<text x="720.09" y="386.33" font-family="Liberation Sans" font-size="6.53" fill="#444" textLength="17.14" lengthAdjust="spacingAndGlyphs">1/500</text>
<text x="15.83" y="54.3" font-family="Liberation Serif" font-size="17.12" fill="#000" textLength="11.99" lengthAdjust="spacingAndGlyphs">A</text>
<text x="15.85" y="287.72" font-family="Liberation Serif" font-size="16.36" fill="#000" textLength="9.95" lengthAdjust="spacingAndGlyphs">B</text>
<text x="409.05" y="50.04" font-family="Liberation Serif" font-size="15.82" fill="#000" textLength="12.52" lengthAdjust="spacingAndGlyphs">C</text>
<text x="155.77" y="39.21" font-family="Liberation Serif" font-size="16.69" fill="#1e1e1e" font-style="italic" textLength="97.27" lengthAdjust="spacingAndGlyphs">M. aeruginosa</text>
<text x="151.07" y="281.66" font-family="Liberation Serif" font-size="14.62" fill="#1e1e1e" font-style="italic" textLength="74.83" lengthAdjust="spacingAndGlyphs">C. vulgaris</text>
<text x="545.07" y="42.76" font-family="Liberation Serif" font-size="16.91" fill="#1e1e1e" font-style="italic" textLength="96.56" lengthAdjust="spacingAndGlyphs">M. aeruginosa</text>
<text x="544.28" y="281.34" font-family="Liberation Serif" font-size="15.16" fill="#1e1e1e" font-style="italic" textLength="74.62" lengthAdjust="spacingAndGlyphs">C. vulgaris</text>
<text x="477.61" y="37.1" font-family="Liberation Serif" font-size="8.35" fill="#555" stroke="#555" stroke-width="0.2" textLength="3.66" lengthAdjust="spacingAndGlyphs">(</text>
<text x="482.66" y="38.8" font-family="Liberation Serif" font-size="10" fill="#111" stroke="#111" stroke-width="0.2" textLength="4.27" lengthAdjust="spacingAndGlyphs">a</text>
<text x="487.91" y="37.06" font-family="Liberation Serif" font-size="8.57" fill="#555" stroke="#555" stroke-width="0.2" textLength="4.36" lengthAdjust="spacingAndGlyphs">)</text>
<text x="476.37" y="278.79" font-family="Liberation Serif" font-size="8.9" fill="#555" stroke="#555" stroke-width="0.2" textLength="3.92" lengthAdjust="spacingAndGlyphs">(</text>
<text x="481.1" y="280.59" font-family="Liberation Serif" font-size="10.78" fill="#111" stroke="#111" stroke-width="0.2" textLength="5" lengthAdjust="spacingAndGlyphs">b</text>
<text x="487.44" y="278.72" font-family="Liberation Serif" font-size="9.23" fill="#555" stroke="#555" stroke-width="0.2" textLength="3.97" lengthAdjust="spacingAndGlyphs">)</text>
<text transform="rotate(-90)" x="-156.25" y="50.1" font-family="Liberation Serif" font-size="11.76" fill="#333" font-style="italic" stroke="#333" stroke-width="0.2" textLength="6.32" lengthAdjust="spacingAndGlyphs">P</text>
<text transform="rotate(-90)" x="-149.96" y="53.03" font-family="Liberation Serif" font-size="6.67" fill="#333" font-style="italic" stroke="#333" stroke-width="0.2" textLength="9.18" lengthAdjust="spacingAndGlyphs">md</text>
<text transform="rotate(-90)" x="-135.87" y="48.79" font-family="Liberation Sans" font-size="9.09" fill="#333" stroke="#333" stroke-width="0.2" textLength="20.01" lengthAdjust="spacingAndGlyphs">(%)</text>
<text transform="rotate(-90)" x="-388.34" y="49" font-family="Liberation Serif" font-size="11.6" fill="#333" font-style="italic" stroke="#333" stroke-width="0.2" textLength="7.35" lengthAdjust="spacingAndGlyphs">P</text>
<text transform="rotate(-90)" x="-383.74" y="51.64" font-family="Liberation Serif" font-size="6.24" fill="#333" font-style="italic" stroke="#333" stroke-width="0.2" textLength="8.35" lengthAdjust="spacingAndGlyphs">md</text>
<text transform="rotate(-90)" x="-370.31" y="47.78" font-family="Liberation Serif" font-size="10.77" fill="#333" stroke="#333" stroke-width="0.2" textLength="13.82" lengthAdjust="spacingAndGlyphs">(%)</text>
<text transform="rotate(-90)" x="-152.95" y="443.2" font-family="Liberation Serif" font-size="10.08" fill="#333" font-style="italic" stroke="#333" stroke-width="0.2" textLength="5.8" lengthAdjust="spacingAndGlyphs">P</text>
<text transform="rotate(-90)" x="-148.52" y="445.55" font-family="Liberation Serif" font-size="5.39" fill="#333" font-style="italic" stroke="#333" stroke-width="0.2" textLength="7.74" lengthAdjust="spacingAndGlyphs">md</text>
<text transform="rotate(-90)" x="-135.75" y="442.11" font-family="Liberation Sans" font-size="7.59" fill="#333" stroke="#333" stroke-width="0.2" textLength="16.97" lengthAdjust="spacingAndGlyphs">(%)</text>
<text transform="rotate(-90)" x="-397.65" y="442.3" font-family="Liberation Serif" font-size="9.92" fill="#333" font-style="italic" stroke="#333" stroke-width="0.2" textLength="6.21" lengthAdjust="spacingAndGlyphs">P</text>
<text transform="rotate(-90)" x="-391.41" y="444.45" font-family="Liberation Serif" font-size="4.54" fill="#333" font-style="italic" stroke="#333" stroke-width="0.2" textLength="7.32" lengthAdjust="spacingAndGlyphs">md</text>
<text transform="rotate(-90)" x="-380" y="441.19" font-family="Liberation Sans" font-size="8.13" fill="#333" stroke="#333" stroke-width="0.2" textLength="18.27" lengthAdjust="spacingAndGlyphs">(%)</text>
<text x="244.15" y="13.28" font-family="Liberation Serif" font-size="16" fill="#000" font-weight="bold" textLength="302.84" lengthAdjust="spacingAndGlyphs">Percentage of cells with membrane damage</text>
<text x="552.45" y="13.15" font-family="Liberation Serif" font-size="15.6" fill="#000" font-weight="bold" textLength="6.27" lengthAdjust="spacingAndGlyphs">(</text>
<text x="558.1" y="12.7" font-family="Liberation Serif" font-size="14.81" fill="#000" font-style="italic" font-weight="bold" textLength="10.25" lengthAdjust="spacingAndGlyphs">P</text>
<text x="567.77" y="16.1" font-family="Liberation Serif" font-size="10.07" fill="#000" font-style="italic" font-weight="bold" stroke="#000" stroke-width="0.2" textLength="14.99" lengthAdjust="spacingAndGlyphs">md</text>
<text x="582.4" y="13.07" font-family="Liberation Serif" font-size="15.93" fill="#000" font-weight="bold" textLength="5.51" lengthAdjust="spacingAndGlyphs">)</text>
</svg>
</body></html>
